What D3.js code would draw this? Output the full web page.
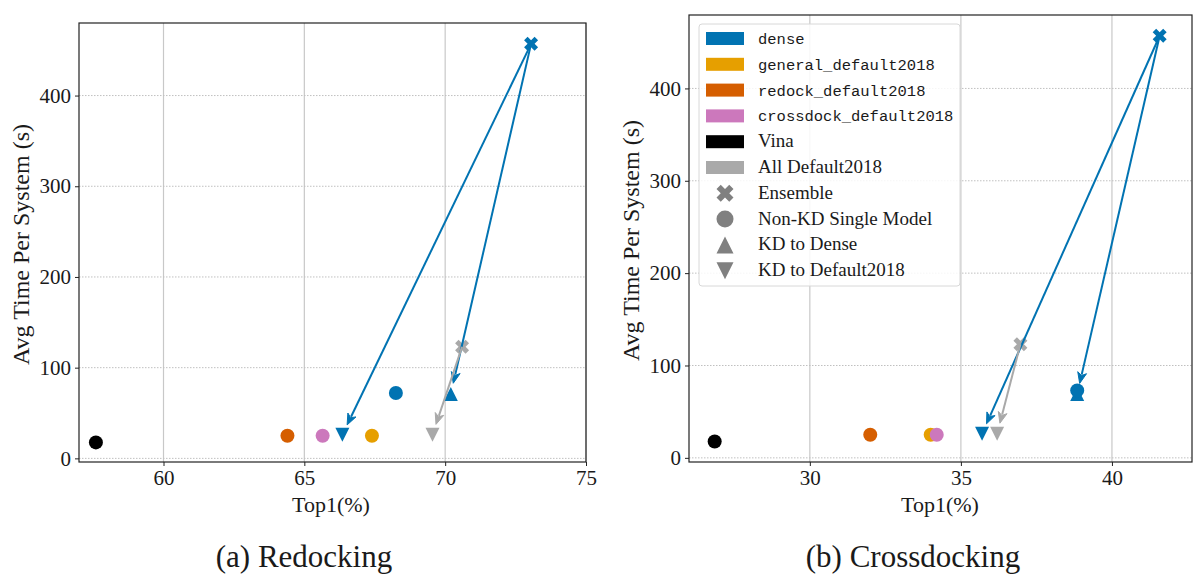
<!DOCTYPE html>
<html>
<head>
<meta charset="utf-8">
<script src="https://cdn.jsdelivr.net/npm/d3@7"></script>
<style>
  body { margin: 0; background: #fff; }
  svg text { font-family: "Liberation Serif", "DejaVu Serif", serif; fill: #1a1a1a; }
  .mono { font-family: "Liberation Mono", "DejaVu Sans Mono", monospace; }
</style>
</head>
<body>
<div id="container"></div>
<script>
// models (colour) and kinds (marker)
var models = ["dense", "general_default2018", "redock_default2018", "crossdock_default2018", "Vina", "All Default2018"];
var modelColors = ["#0173b2", "#e69f00", "#d55e00", "#cc78bc", "#000000", "#a9a9a9"];
var kinds = ["Ensemble", "Non-KD Single Model", "KD to Dense", "KD to Default2018"];
var kindShapes = ["x", "circle", "up", "down"];

// [model, kind, top1, time] -- drawing order
var redockPoints = [
  ["Vina", "Non-KD Single Model", 57.6, 17.6],
  ["redock_default2018", "Non-KD Single Model", 64.4, 25],
  ["crossdock_default2018", "Non-KD Single Model", 65.65, 25],
  ["general_default2018", "Non-KD Single Model", 67.4, 25],
  ["dense", "Non-KD Single Model", 68.25, 72],
  ["dense", "KD to Dense", 70.2, 71],
  ["dense", "KD to Default2018", 66.35, 26],
  ["All Default2018", "KD to Default2018", 69.55, 26],
  ["All Default2018", "Ensemble", 70.6, 123],
  ["dense", "Ensemble", 73.05, 457]
];
var crossdockPoints = [
  ["Vina", "Non-KD Single Model", 26.85, 17.7],
  ["redock_default2018", "Non-KD Single Model", 32.0, 25],
  ["general_default2018", "Non-KD Single Model", 34.0, 25],
  ["crossdock_default2018", "Non-KD Single Model", 34.2, 25],
  ["dense", "KD to Dense", 38.85, 69],
  ["dense", "Non-KD Single Model", 38.85, 73],
  ["dense", "KD to Default2018", 35.7, 26],
  ["All Default2018", "KD to Default2018", 36.2, 26],
  ["All Default2018", "Ensemble", 36.97, 123],
  ["dense", "Ensemble", 41.58, 457]
];
// arrows: [from index, to index] in the point lists
var redockArrows = [[9, 6], [9, 5], [8, 7]];
var crossdockArrows = [[9, 6], [9, 4], [8, 7]];

var xTicksRedock = [60, 65, 70, 75];
var xTicksCrossdock = [30, 35, 40];
var yTicks = [0, 100, 200, 300, 400];

var W = 1194, H = 574;
var svg = d3.select("#container").append("svg")
  .attr("width", W)
  .attr("height", H);

function colorOf(m) { return modelColors[models.indexOf(m)]; }
function shapeOf(k) { return kindShapes[kinds.indexOf(k)]; }

function markerPath(shape, r) {
  if (shape == "circle") return d3.symbol().type(d3.symbolCircle).size(Math.PI * r * r)();
  if (shape == "up") return "M0," + (-r) + "L" + r + "," + r + "L" + (-r) + "," + r + "Z";
  if (shape == "down") return "M0," + r + "L" + r + "," + (-r) + "L" + (-r) + "," + (-r) + "Z";
  // filled X (matplotlib 'X')
  var v = [[0.25, 0], [0.5, 0.25], [0.75, 0], [1, 0.25], [0.75, 0.5], [1, 0.75],
           [0.75, 1], [0.5, 0.75], [0.25, 1], [0, 0.75], [0.25, 0.5], [0, 0.25]];
  return "M" + v.map(function(p) { return ((p[0] - 0.5) * 2 * r) + "," + ((p[1] - 0.5) * 2 * r); }).join("L") + "Z";
}

function drawPanel(opt) {
  var x = d3.scaleLinear().domain(opt.xDomain).range(opt.xRange);
  var y = d3.scaleLinear().domain(opt.yDomain).range(opt.yRange);
  var g = svg.append("g");

  var clipId = "clip" + opt.id;
  svg.append("clipPath").attr("id", clipId).append("rect")
    .attr("x", opt.xRange[0]).attr("y", opt.yRange[1])
    .attr("width", opt.xRange[1] - opt.xRange[0])
    .attr("height", opt.yRange[0] - opt.yRange[1]);

  // grid
  g.selectAll(".vgrid").data(opt.xTicks).enter().append("line")
    .attr("x1", function(d) { return x(d); }).attr("x2", function(d) { return x(d); })
    .attr("y1", opt.yRange[0]).attr("y2", opt.yRange[1])
    .attr("stroke", "#c8c8c8").attr("stroke-width", 1.2);
  g.selectAll(".hgrid").data(yTicks).enter().append("line")
    .attr("x1", opt.xRange[0]).attr("x2", Math.min(opt.xRange[1], W))
    .attr("y1", function(d) { return y(d); }).attr("y2", function(d) { return y(d); })
    .attr("stroke", "#c0c0c0").attr("stroke-width", 1).attr("stroke-dasharray", "1.5,1.5");

  // axes
  var xAxis = g.append("g").attr("transform", "translate(0," + opt.yRange[0] + ")")
    .call(d3.axisBottom(x).tickValues(opt.xTicks).tickSize(4).tickPadding(4).tickFormat(d3.format("d")));
  var yAxis = g.append("g").attr("transform", "translate(" + opt.xRange[0] + ",0)")
    .call(d3.axisLeft(y).tickValues(yTicks).tickSize(4).tickPadding(4).tickFormat(d3.format("d")));
  [xAxis, yAxis].forEach(function(a) {
    a.select(".domain").remove();
    a.selectAll("text").attr("font-size", 21).attr("font-family", "Liberation Serif").attr("fill", "#1a1a1a");
    a.selectAll("line").attr("stroke", "#222");
  });

  // box
  g.append("rect")
    .attr("x", opt.xRange[0]).attr("y", opt.yRange[1])
    .attr("width", opt.xRange[1] - opt.xRange[0])
    .attr("height", opt.yRange[0] - opt.yRange[1])
    .attr("fill", "none").attr("stroke", "#222").attr("stroke-width", 1.2);

  // points
  var pts = g.append("g").attr("clip-path", "url(#" + clipId + ")");
  pts.selectAll("path").data(opt.points).enter().append("path")
    .attr("d", function(d) { return markerPath(shapeOf(d[1]), 7); })
    .attr("transform", function(d) { return "translate(" + x(d[2]) + "," + y(d[3]) + ")"; })
    .attr("fill", function(d) { return colorOf(d[0]); });

  // arrows
  opt.arrows.forEach(function(a) {
    var p = opt.points[a[0]], q = opt.points[a[1]];
    var x1 = x(p[2]), y1 = y(p[3]), x2 = x(q[2]), y2 = y(q[3]);
    var dx = x2 - x1, dy = y2 - y1, len = Math.sqrt(dx * dx + dy * dy);
    var ux = dx / len, uy = dy / len;
    var tx = x2 - ux * 11, ty = y2 - uy * 11;
    var hl = 11, hw = 4.5;
    var bx = tx - ux * hl, by = ty - uy * hl;
    var c = colorOf(p[0]);
    g.append("line")
      .attr("x1", x1).attr("y1", y1).attr("x2", bx + ux * 2).attr("y2", by + uy * 2)
      .attr("stroke", c).attr("stroke-width", 2);
    g.append("path")
      .attr("d", "M" + tx + "," + ty + "L" + (bx - uy * hw) + "," + (by + ux * hw) +
        "L" + (bx + ux * 3) + "," + (by + uy * 3) + "L" + (bx + uy * hw) + "," + (by - ux * hw) + "Z")
      .attr("fill", c).attr("stroke", c).attr("stroke-width", 1).attr("stroke-linejoin", "miter");
  });

  // labels
  g.append("text").attr("x", opt.labelX).attr("y", 512).attr("text-anchor", "middle")
    .attr("font-size", 22).text("Top1(%)");
  g.append("text")
    .attr("transform", "translate(" + opt.yLabelX + "," + ((opt.yRange[0] + opt.yRange[1]) / 2 + 2) + ") rotate(-90)")
    .attr("text-anchor", "middle").attr("font-size", 24).text("Avg Time Per System (s)");
  g.append("text").attr("x", opt.captionX).attr("y", 567).attr("text-anchor", "middle")
    .attr("font-size", 31).text(opt.caption);
}

drawPanel({
  id: "a", points: redockPoints, arrows: redockArrows,
  xDomain: [57, 75], xRange: [79, 586], xTicks: xTicksRedock,
  yDomain: [-4, 480], yRange: [462, 23],
  labelX: 331, yLabelX: 29, captionX: 304, caption: "(a) Redocking"
});
drawPanel({
  id: "b", points: crossdockPoints, arrows: crossdockArrows,
  xDomain: [26, 42.65], xRange: [689, 1192], xTicks: xTicksCrossdock,
  yDomain: [-4.5, 479.5], yRange: [462, 15],
  labelX: 940, yLabelX: 639, captionX: 913, caption: "(b) Crossdocking"
});

// legend
var leg = svg.append("g").attr("transform", "translate(699,24)");
leg.append("rect").attr("width", 261).attr("height", 262).attr("rx", 3)
  .attr("fill", "#fff").attr("fill-opacity", 0.85).attr("stroke", "#d8d8d8").attr("stroke-width", 1);
var rowH = 25.8;
models.forEach(function(m, i) {
  var yy = 14.5 + i * rowH;
  leg.append("rect").attr("x", 7).attr("y", yy - 6.5).attr("width", 38).attr("height", 13)
    .attr("fill", modelColors[i]);
  var mono = m.indexOf("_") >= 0 || m == "dense";
  leg.append("text").attr("x", 59).attr("y", yy + 5.5)
    .attr("class", mono ? "mono" : null)
    .attr("font-size", mono ? 15.5 : 19).text(m);
});
kinds.forEach(function(k, i) {
  var yy = 14.5 + (models.length + i) * rowH;
  leg.append("path").attr("d", markerPath(kindShapes[i], 8.5))
    .attr("transform", "translate(26," + yy + ")").attr("fill", "#808080");
  leg.append("text").attr("x", 59).attr("y", yy + 5.5).attr("font-size", 19).text(k);
});
</script>
</body>
</html>
